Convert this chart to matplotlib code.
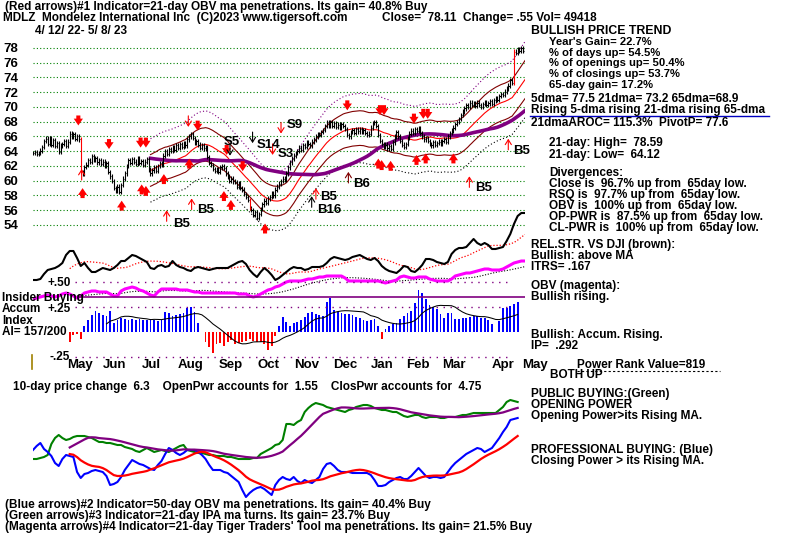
import numpy as np
import matplotlib
matplotlib.use("Agg")
import matplotlib.pyplot as plt
from matplotlib.lines import Line2D

# ---------------- data ----------------
close = [
    63.8, 63.9, 63.6, 63.8, 64.1, 64.6, 65.4, 65.7, 65.0, 65.8,
    64.9, 65.5, 64.7, 65.1, 63.9, 64.8, 65.0, 65.4, 64.7, 65.3,
    66.4, 66.0, 66.3, 65.7, 66.0, 65.6, 61.2, 61.0, 61.9, 62.2,
    62.8, 62.6, 63.3, 62.9, 63.1, 62.5, 62.8, 62.3, 62.6, 62.0,
    62.4, 61.2, 60.6, 60.0, 59.0, 58.7, 59.2, 58.5, 59.4, 60.3,
    61.0, 62.0, 62.8, 62.4, 62.9, 62.6, 62.3, 63.0, 62.4, 62.7,
    62.2, 62.6, 62.9, 61.5, 61.0, 61.4, 61.8, 61.3, 62.0, 62.4,
    62.2, 63.4, 64.0, 63.6, 64.3, 64.1, 64.6, 64.2, 64.8, 64.5,
    65.0, 64.6, 65.1, 64.8, 65.6, 66.0, 66.3, 65.8, 65.2, 65.4,
    64.9, 64.5, 64.8, 64.4, 64.6, 63.2, 62.4, 62.1, 61.6, 61.3,
    61.5, 61.2, 61.8, 62.0, 61.7, 61.0, 60.6, 60.0, 60.3, 59.9,
    59.8, 59.2, 59.6, 59.0, 58.8, 58.2, 57.8, 57.4, 56.3, 56.0,
    55.4, 55.7, 55.0, 55.5, 56.2, 56.8, 57.3, 57.0, 57.6, 57.8,
    58.3, 58.0, 58.8, 59.2, 59.6, 60.0, 60.3, 60.1, 61.0, 61.8,
    62.5, 63.0, 63.4, 63.8, 64.0, 64.5, 64.2, 64.8, 64.6, 65.2,
    65.0, 64.8, 65.3, 65.6, 66.0, 66.3, 66.2, 66.6, 66.9, 67.4,
    68.0, 67.5, 67.9, 67.4, 67.8, 67.3, 67.6, 67.2, 67.7, 67.4,
    67.0, 66.2, 66.0, 66.6, 66.9, 66.5, 67.0, 66.7, 67.0, 66.6,
    66.9, 66.5, 66.2, 66.4, 67.2, 67.8, 68.0, 67.4, 66.2, 65.4,
    65.0, 64.6, 64.9, 64.4, 64.7, 64.3, 65.2, 66.0, 66.6, 66.0,
    65.4, 64.9, 64.6, 65.0, 65.8, 66.4, 66.8, 66.5, 67.0, 66.8,
    67.1, 66.5, 66.0, 65.6, 65.8, 65.4, 65.0, 64.8, 65.2, 64.9,
    65.1, 65.3, 65.0, 65.4, 65.6, 65.3, 66.0, 66.5, 66.8, 67.2,
    67.7, 68.0, 68.4, 68.9, 69.4, 69.8, 70.3, 70.0, 70.6, 70.3,
    70.5, 70.2, 70.6, 70.3, 70.0, 70.4, 70.7, 70.3, 70.5, 70.8,
    70.4, 70.9, 71.2, 71.0, 71.5, 71.8, 71.6, 72.1, 72.5, 72.9,
    73.6, 73.3, 77.5, 77.3, 77.8, 77.6, 78.0, 77.56, 78.11]

# every 2nd trading day, arbitrary index units
rel_str = [
    20, 20, 21, 26, 30, 31, 32, 34, 37, 45,
    49, 49, 42, 34, 37, 32, 28, 28, 30, 32,
    31, 30, 32, 35, 39, 39, 42, 45, 44, 42,
    40, 38, 32, 31, 34, 35, 33, 34, 39, 35,
    33, 32, 30, 29, 32, 33, 32, 31, 30, 31,
    32, 32, 32, 32, 34, 36, 38, 39, 36, 30,
    26, 23, 28, 32, 29, 25, 20, 22, 25, 28,
    31, 33, 32, 32, 30, 31, 33, 33, 33, 34,
    37, 41, 43, 42, 41, 40, 41, 43, 44, 45,
    43, 41, 40, 42, 39, 34, 31, 29, 28, 27,
    30, 34, 33, 29, 28, 31, 35, 41, 41, 40,
    38, 37, 36, 38, 46, 50, 52, 52, 53, 57,
    61, 57, 55, 57, 55, 51, 51, 52, 53, 59,
    66, 76, 84, 87, 87]

obv = [
    1, 2, 3, 4, 5, 4, 3, 4, 6, 7,
    6, 4, 2, 4, 7, 8, 9, 9, 8, 8,
    8, 6, 4, 4, 9, 11, 12, 13, 12, 10,
    9, 7, 5, 4, 8, 11, 11, 11, 11, 11,
    10, 10, 10, 9, 8, 8, 7, 7, 7, 7,
    7, 7, 7, 7, 7, 7, 6, 6, 6, 4,
    3, 4, 6, 8, 10, 11, 13, 14, 16, 18,
    19, 19, 19, 19, 20, 21, 21, 22, 23, 23,
    24, 24, 24, 24, 24, 22, 19, 19, 19, 19,
    19, 19, 19, 19, 19, 18, 17, 18, 19, 20,
    23, 24, 23, 22, 22, 23, 23, 23, 21, 20,
    19, 19, 19, 19, 21, 24, 25, 26, 27, 27,
    28, 29, 30, 31, 31, 30, 30, 30, 31, 33,
    35, 37, 38, 39, 39]

# Accumulation index, from trading day 20, every 2nd day
accum_index = [
    -0.10, -0.03, -0.02, -0.07, 0.06, 0.12, 0.17, 0.21, 0.19, 0.17,
    0.16, 0.21, 0.09, 0.12, 0.14, 0.13, 0.12, 0.125, 0.12, 0.13,
    0.12, 0.12, 0.125, 0.12, 0.11, 0.12, 0.20, 0.19, 0.16, 0.17,
    0.18, 0.19, 0.24, 0.25, 0.20, 0.09, 0.0, -0.10, -0.15, -0.21,
    -0.12, -0.11, -0.14, -0.10, -0.08, -0.12, -0.11, -0.107, -0.09, -0.07,
    -0.09, -0.107, -0.10, -0.12, -0.18, -0.14, -0.04, 0.06, 0.15, 0.10,
    0.06, 0.09, 0.10, 0.12, 0.15, 0.19, 0.20, 0.18, 0.17, 0.16,
    0.30, 0.34, 0.22, 0.20, 0.19, 0.18, 0.18, 0.17, 0.15, 0.14,
    0.12, 0.11, 0.12, 0.125, 0.06, -0.07, 0.03, 0.06, 0.08, 0.09,
    0.13, 0.16, 0.19, 0.21, 0.29, 0.42, 0.39, 0.33, 0.27, 0.25,
    0.23, 0.18, 0.14, 0.19, 0.19, 0.13, 0.13, 0.14, 0.14, 0.15,
    0.16, 0.16, 0.14, 0.14, 0.12, 0.08, 0.0, 0.11, 0.24, 0.24,
    0.26, 0.28, 0.30]
ai_start = 20

open_power = [
    51, 51, 52, 53, 55, 66, 72, 75, 72, 70,
    71, 73, 74, 74, 74, 73, 72, 70, 68, 68,
    67, 67, 66, 65, 65, 63, 62, 61, 59, 58,
    60, 62, 60, 58, 59, 60, 59, 58, 60, 62,
    64, 65, 60, 59, 58, 57, 57, 56, 55, 55,
    54, 54, 54, 53, 53, 52, 51, 51, 51, 51,
    52, 52, 56, 58, 60, 62, 65, 66, 70, 86,
    86, 85, 88, 90, 98, 102, 105, 107, 106, 105,
    103, 102, 101, 100, 99, 98, 100, 101, 103, 104,
    105, 105, 104, 102, 101, 100, 100, 99, 98, 98,
    96, 94, 93, 94, 95, 95, 93, 92, 93, 93,
    93, 92, 92, 93, 93, 93, 94, 95, 95, 96,
    97, 97, 97, 97, 97, 97, 97, 100, 103, 108,
    110, 109, 108]

close_power = [
    60, 64, 67, 61, 58, 54, 47, 44, 51, 55,
    54, 53, 38, 32, 36, 37, 39, 40, 39, 38,
    34, 25, 26, 28, 33, 40, 45, 50, 48, 46,
    45, 43, 41, 40, 45, 49, 56, 62, 60, 57,
    55, 57, 60, 60, 60, 58, 55, 51, 45, 40,
    40, 40, 38, 37, 34, 31, 28, 20, 13, 17,
    20, 22, 23, 21, 18, 15, 25, 30, 33, 31,
    30, 33, 29, 27, 30, 28, 27, 30, 33, 41,
    46, 47, 44, 40, 38, 38, 38, 37, 37, 37,
    37, 37, 35, 30, 24, 24, 25, 28, 30, 32,
    33, 31, 31, 34, 38, 42, 38, 34, 32, 33,
    33, 32, 33, 38, 43, 47, 50, 53, 56, 58,
    60, 62, 61, 58, 60, 62, 67, 72, 78, 83,
    90, 91, 92]

month_labels = ['May', 'Jun', 'Jul', 'Aug', 'Sep', 'Oct', 'Nov', 'Dec',
                'Jan', 'Feb', 'Mar', 'Apr', 'May']
month_pos = [18.5, 38, 59.5, 79, 101, 122.5, 142.5, 163.5, 184, 203.5,
             223, 250, 266.5]
price_ticks = list(range(54, 80, 2))

# signal arrows: (day, price at arrow tip)
thick_down = [(24.7, 67.5), (41.4, 64.3), (58.6, 64.5), (61.5, 64.5),
              (89.7, 66.8), (105.5, 63.5), (114.2, 61.3), (171.2, 69.55),
              (189.0, 68.9), (191.2, 68.9), (207.5, 67.75), (212.6, 68.4),
              (215.0, 68.4)]
thick_up = [(27.0, 59.0), (48.3, 57.3), (59.2, 59.5), (61.5, 59.3),
            (71.3, 60.9), (85.1, 63.0), (104.0, 58.6), (107.8, 57.4),
            (126.4, 54.2), (188.1, 63.0), (189.9, 62.8), (194.8, 62.7),
            (208.9, 63.5), (213.9, 63.7), (229.0, 63.7)]
thin_arrows = [(26.5, 61.6, 'up', 'red'), (72.8, 56.0, 'up', 'red'),
               (86.4, 57.6, 'up', 'red'), (84.6, 67.3, 'down', 'red'),
               (107.3, 63.4, 'down', 'black'), (119.6, 65.1, 'down', 'black'),
               (130.5, 63.5, 'down', 'red'), (135.1, 66.4, 'down', 'red'),
               (151.8, 57.9, 'up', 'black'), (154.1, 59.0, 'up', 'red'),
               (171.8, 61.2, 'up', '#800000'), (237.7, 60.6, 'up', 'red'),
               (258.9, 65.7, 'up', 'red')]
signal_labels = [('B5', 76.3, 54.2), ('B5', 89.3, 56.0), ('S5', 104.0, 65.2),
                 ('S14', 121.8, 64.9), ('S3', 133.3, 63.6), ('S9', 138.3, 67.5),
                 ('B5', 156.3, 57.8), ('B16', 154.7, 56.0), ('B6', 174.3, 59.6),
                 ('B5', 240.7, 59.0), ('B5', 261.4, 64.0)]
red_bar_days = [26, 118, 262]

# ---------------- figure ----------------
plt.rcParams['font.family'] = ['Liberation Sans', 'DejaVu Sans']
plt.rcParams['font.weight'] = 'bold'

W, H = 800, 536
fig = plt.figure(figsize=(W / 100, H / 100), dpi=100)
fig.patch.set_facecolor('white')

N = len(close)
X0, X1 = 33, 525
FS = 8.5


def panel(ytop, ybot, v_top, v_bot):
    ax = fig.add_axes([X0 / W, 1 - ybot / H, (X1 - X0) / W, (ybot - ytop) / H])
    ax.set_xlim(0, N - 1)
    ax.set_ylim(v_bot, v_top)
    ax.patch.set_visible(False)
    for s in ax.spines.values():
        s.set_visible(False)
    ax.set_xticks([])
    ax.set_yticks([])
    return ax


def sma(a, w):
    a = np.asarray(a, float)
    out = np.full(len(a), np.nan)
    if len(a) >= w:
        out[w - 1:] = np.convolve(a, np.ones(w) / w, mode='valid')
    return out


def T(x, y, s, size=FS, **kw):
    fig.text(x / W, 1 - y / H, s, fontsize=size, fontweight='bold',
             ha=kw.pop('ha', 'left'), va=kw.pop('va', 'center'), **kw)


# ---- price panel ----
ppu = (225 - 48) / 24.0
axp = panel(30, 248, 78 + 18 / ppu, 54 - 23 / ppu)
axp.hlines(price_ticks, 0, N - 1, colors='#008000', linestyles=(0, (1, 2)),
           lw=0.8, zorder=1)
c = np.array(close)
x = np.arange(N)
prev = np.r_[c[0], c[:-1]]
lo = np.minimum(prev, c) - 0.3
hi = np.maximum(prev, c) + 0.3
cols = ['red' if i in red_bar_days else 'black' for i in x]
axp.vlines(x, lo, hi, colors=cols, lw=0.8, zorder=3)
axp.hlines(c, x, x + 0.7, colors=cols, lw=0.8, zorder=3)

ma21 = sma(c, 21)
ma65 = sma(c, 65)
ma21[:64] = np.nan
axp.plot(x, ma21 * 1.07, color='#800080', lw=0.8, ls=(0, (1, 2)), zorder=2)
axp.plot(x, ma21 * 1.035, color='#800000', lw=0.8, zorder=2)
axp.plot(x, ma21, color='red', lw=0.8, zorder=2)
axp.plot(x, ma21 * 0.965, color='#800000', lw=0.8, zorder=2)
axp.plot(x, ma21 * 0.93, color='black', lw=0.8, ls=(0, (1, 2)), zorder=2)
axp.plot(x, ma65, color='#800080', lw=2.6, zorder=2.5)

axp.set_yticks(price_ticks)
axp.set_yticklabels([str(t) for t in price_ticks], fontsize=9.5, fontweight='bold')
axp.tick_params(axis='y', length=0, pad=10.5)

thick_len = 1.35
thin_len = 1.5
thick_props = dict(arrowstyle='simple,head_length=0.7,head_width=0.95,tail_width=0.42',
                   color='red', mutation_scale=7, shrinkA=0, shrinkB=0, lw=0)
for i, tip in thick_down:
    axp.annotate('', xy=(i, tip), xytext=(i, tip + thick_len), arrowprops=thick_props)
for i, tip in thick_up:
    axp.annotate('', xy=(i, tip), xytext=(i, tip - thick_len), arrowprops=thick_props)
for i, tip, d, col in thin_arrows:
    tail = tip - thin_len if d == 'up' else tip + thin_len
    axp.annotate('', xy=(i, tip), xytext=(i, tail),
                 arrowprops=dict(arrowstyle='->,head_length=0.35,head_width=0.22',
                                 color=col, lw=0.8, shrinkA=0, shrinkB=0))
for s, i, p in signal_labels:
    axp.text(i, p, s, fontsize=9.5, fontweight='bold', ha='left', va='center', clip_on=False)

# ---- relative strength + OBV panel (index units) ----
axm = panel(200, 305, 100, -5)
xs2 = np.arange(len(rel_str)) * 2
axm.plot(xs2, rel_str, color='black', lw=1.5, zorder=3)
axm.plot(xs2, sma(rel_str, 11), color='red', lw=0.9, ls=(0, (1, 1.5)), zorder=2)
xo = np.arange(len(obv)) * 2
axm.plot(xo, sma(obv, 13), color='black', lw=0.8, ls=(0, (1, 1.5)), zorder=2)
axm.plot(xo, obv, color='#ff00ff', lw=2.2, zorder=3)

# ---- accumulation index panel ----
k = 99.2
axa = panel(275, 372, (331.7 - 275) / k, (331.7 - 372) / k)
ai = np.array(accum_index)
xa = ai_start + 2 * np.arange(len(ai))
axa.bar(xa, ai, width=1.0, color=['#0000ff' if v > 0 else 'red' for v in ai],
        lw=0, zorder=2)
axa.plot(xa, sma(ai, 11), color='black', lw=0.75, zorder=3)
axa.hlines([0.5, 0.25, -0.25], 23, 261, colors='#800080', linestyles=(0, (1, 4)), lw=1.0)
axa.hlines([0.35], 25, N - 1, colors='#800080', lw=1.2)
for lab, pos in zip(month_labels, month_pos):
    axa.text(pos, (331.7 - 365) / k, lab, fontsize=9.5, fontweight='bold',
             ha='left', va='center', clip_on=False)

# ---- opening / closing power panel ----
axw = panel(390, 505, 120, 5)
xp = np.arange(len(open_power)) * 2
axw.plot(xp, open_power, color='#008000', lw=1.5, zorder=2)
axw.plot(xp, sma(open_power, 11), color='#800080', lw=1.6, zorder=3)
xc = np.arange(len(close_power)) * 2
axw.plot(xc, close_power, color='#0000ff', lw=1.5, zorder=2)
axw.plot(xc, sma(close_power, 11), color='red', lw=1.6, zorder=3)

# ---------------- texts ----------------
T(5, 7, "(Red arrows)#1 Indicator=21-day OBV ma penetrations. Its gain= 40.8% Buy")
T(3, 18.5, "MDLZ  Mondelez International Inc  (C)2023 www.tigersoft.com")
T(382, 18.5, "Close=  78.11  Change= .55 Vol= 49418")
T(35, 30.5, "4/ 12/ 22- 5/ 8/ 23")

T(531, 31, "BULLISH PRICE TREND", size=8.8)
FS2 = 8.1
T(549, 42, "Year's Gain= 22.7%", size=FS2)
T(549, 52.5, "% of days up= 54.5%", size=FS2)
T(549, 63.5, "% of openings up= 50.4%", size=FS2)
T(549, 74, "% of closings up= 53.7%", size=FS2)
T(549, 84.5, "65-day gain= 17.2%", size=FS2)
T(531, 99, "5dma= 77.5 21dma= 73.2 65dma=68.9")
T(531, 110, "Rising 5-dma rising 21-dma rising 65-dma")
fig.add_artist(Line2D([530 / W, 769 / W], [1 - 115.5 / H] * 2, color='#0000c0', lw=1))
T(531, 123, "21dmaAROC= 115.3%  PivotP= 77.6")
T(549, 143, "21-day: High=  78.59")
T(549, 155, "21-day: Low=  64.12")
T(549, 173, "Divergences:")
T(549, 184, "Close is  96.7% up from  65day low.")
T(549, 195, "RSQ is  97.7% up from  65day low.")
T(549, 206, "OBV is  100% up from  65day low.")
T(549, 217, "OP-PWR is  87.5% up from  65day low.")
T(549, 228, "CL-PWR is  100% up from  65day low.")
T(531, 245, "REL.STR. VS DJI (brown):")
T(531, 256, "Bullish: above MA")
T(531, 267, "ITRS= .167")
T(531, 286, "OBV (magenta):")
T(531, 297, "Bullish rising.")
T(531, 335, "Bullish: Accum. Rising.")
T(531, 346, "IP=  .292")
T(577, 365, "Power Rank Value=819")
fig.add_artist(Line2D([577 / W, 720 / W], [1 - 371 / H] * 2, color='black', lw=0.8,
                      ls=(0, (2, 2))))
T(550, 375, "BOTH UP")

T(2, 298, "Insider Buying")
T(2, 309.5, "Accum")
T(2, 321, "Index")
T(2, 332, "AI= 157/200")
T(47, 283, "+.50")
T(47, 309, "+.25")
T(50, 357, "-.25")
fig.add_artist(Line2D([32 / W, 32 / W], [1 - 355 / H, 1 - 369 / H], color='#a08000', lw=1.2))

T(13, 387, "10-day price change  6.3    OpenPwr accounts for  1.55    ClosPwr accounts for  4.75")
T(531, 394, "PUBLIC BUYING:(Green)")
T(531, 405, "OPENING POWER")
T(531, 416, "Opening Power>its Rising MA.")
T(531, 450, "PROFESSIONAL BUYING: (Blue)")
T(531, 461, "Closing Power > its Rising MA.")

T(5, 505, "(Blue arrows)#2 Indicator=50-day OBV ma penetrations. Its gain= 40.4% Buy")
T(5, 516, "(Green arrows)#3 Indicator=21-day IPA ma turns. Its gain= 23.7% Buy")
T(5, 527, "(Magenta arrows)#4 Indicator=21-day Tiger Traders' Tool ma penetrations. Its gain= 21.5% Buy")

fig.savefig('out.png', dpi=100, facecolor='white')
